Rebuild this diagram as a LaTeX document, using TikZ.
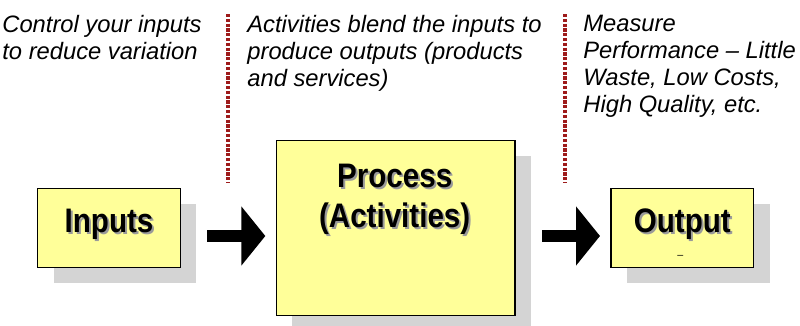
\documentclass[tikz,border=0pt]{standalone}
\usepackage{fontspec}
\setmainfont{Liberation Sans}
\newfontfamily\boxfont[FakeStretch=0.87]{Liberation Sans}
\usetikzlibrary{positioning,shadows,arrows.meta}
\definecolor{boxfill}{HTML}{FFFF99}
\definecolor{boxshade}{HTML}{D4D4D4}
\definecolor{textshade}{HTML}{9A9A9A}
\definecolor{dividerred}{HTML}{9E1B1B}
\newcommand{\shadowtext}[1]{\makebox[0pt][l]{\hspace{1.5pt}\raisebox{-1.5pt}{\textcolor{textshade}{#1}}}#1}

\begin{document}
\begin{tikzpicture}[x=0.75pt, y=0.75pt, semithick] % 1 unit = 1 px
  \tikzstyle{box}=[draw=black, line width=1pt, fill=boxfill, outer sep=0pt, inner sep=0pt,
                   drop shadow={fill=boxshade, opacity=1, shadow xshift=12pt, shadow yshift=-11.5pt}]
  \tikzstyle{smallbox}=[box, minimum width=107pt, minimum height=59.5pt]
  \tikzstyle{bigbox}=[box, minimum width=179pt, minimum height=131pt]
  \tikzstyle{boxtext}=[inner sep=0pt, align=center, font=\boxfont\bfseries\fontsize{25.5pt}{30pt}\selectfont]
  \tikzstyle{note}=[inner sep=0pt, anchor=north west, align=left, font=\itshape\fontsize{17.8pt}{20.25pt}\selectfont]
  \tikzstyle{dividerline}=[dividerred, line width=2.4pt, dash pattern=on 2.4pt off 1.2pt]
  \tikzstyle{blockarrow}=[line width=9.5pt, shorten <=20.25pt, shorten >=8.25pt,
                          -{Triangle[length=18pt 0 0, width=43.5pt 0 0]}]

  \useasboundingbox (0,0) rectangle (800,-325);

  % boxes
  \node[smallbox] (inputs) at (109,-228) {};
  \node[bigbox]   (process) [right=72pt of inputs] {};
  \node[smallbox] (output)  [right=72pt of process] {};

  % box labels
  \node[boxtext, anchor=base]  (inputslabel)  at ([yshift=-3pt]inputs.center) {\shadowtext{Inputs}};
  \node[boxtext, anchor=north] (processlabel) at ([xshift=-0.75pt,yshift=-17.25pt]process.north)
        {\shadowtext{Process}\\\shadowtext{(Activities)}};
  \node[boxtext, anchor=base]  (outputlabel)  at ([yshift=-3.5pt]output.center) {\shadowtext{Output}};
  \node[inner sep=0pt, font=\fontsize{8pt}{8pt}\selectfont] (outputmark)
        at ([xshift=-1.5pt,yshift=-21.75pt]output.center) {--};

  % arrows
  \draw[blockarrow] ([yshift=-6pt]inputs.east) -- ([yshift=-6pt]process.west);
  \draw[blockarrow] ([yshift=-6pt]process.east) -- ([yshift=-6pt]output.west);

  % notes above the boxes
  \node[note] (inputsnote)  at (2,-15)   {Control your inputs\\to reduce variation};
  \node[note] (processnote) at (247,-15) {Activities blend the inputs to\\produce outputs (products\\and services)};
  \node[note] (outputnote)  at (583,-15) {Measure\\Performance -- Little\\Waste, Low Costs,\\High Quality, etc.};

  % dotted dividers
  \coordinate (divonetop) at (228,-14);
  \coordinate (divonebot) at (228,-183);
  \coordinate (divtwotop) at (565,-14);
  \coordinate (divtwobot) at (565,-183);
  \draw[dividerline] (divonetop) -- (divonebot);
  \draw[dividerline] (divtwotop) -- (divtwobot);
\end{tikzpicture}
\end{document}
